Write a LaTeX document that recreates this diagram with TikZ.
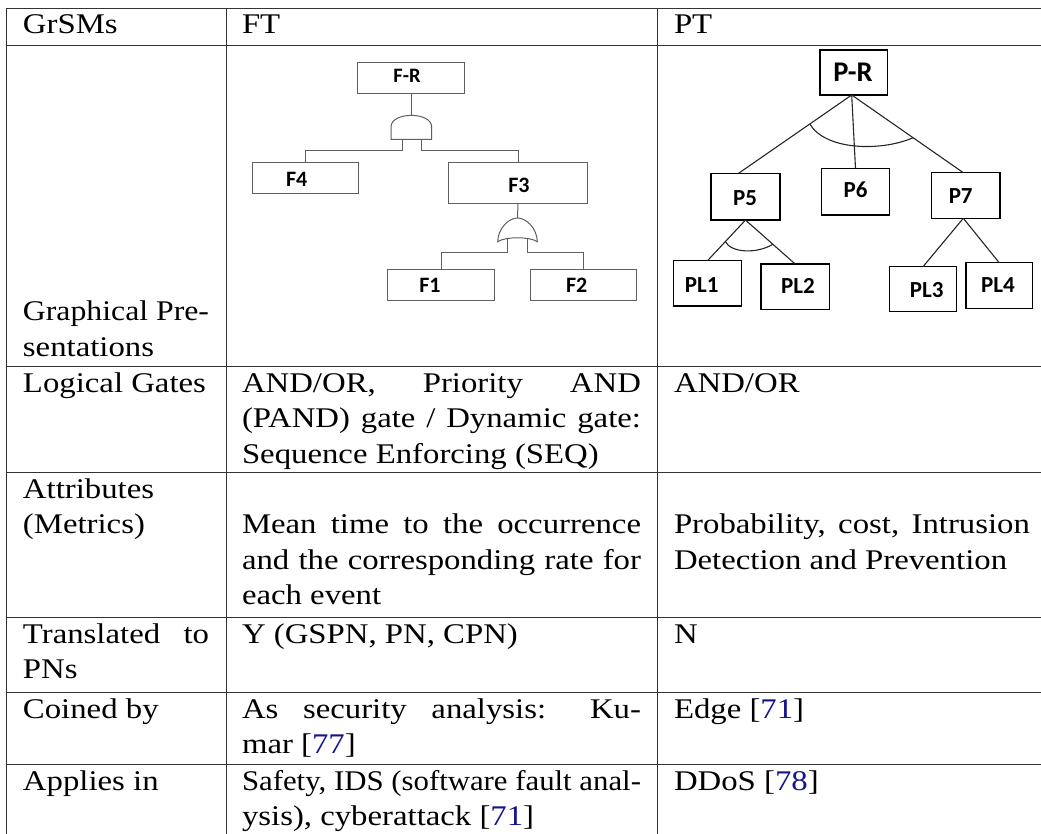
\documentclass[tikz,border=0pt]{standalone}
\usepackage{fontspec}
\usepackage{graphicx}
\setmainfont[FakeStretch=1.15]{Liberation Serif}
\newfontfamily\boxfont{Carlito}
\usetikzlibrary{calc}
\definecolor{citeblue}{RGB}{20,20,140}
\definecolor{ftgray}{RGB}{95,95,95}
\newcommand{\citeref}[1]{[{\color{citeblue}#1}]}
% spread a line to a given width
\newcommand{\just}[2]{\makebox[#1pt][s]{#2}}
% squeeze a line that is too long into a given width
\newcommand{\squeeze}[2]{\resizebox{#1pt}{\height}{#2}}

\begin{document}
\begin{tikzpicture}[x=1pt,y=-1pt,
  rule/.style={line width=0.9pt, black!80},
  cell/.style={anchor=base west, inner sep=0pt, outer sep=0pt,
    font=\fontsize{28.5}{33}\selectfont},
  ftbox/.style={draw=ftgray, line width=1pt, inner sep=0pt, outer sep=0pt},
  ftwire/.style={draw=ftgray, line width=1pt},
  ftlab/.style={anchor=base, inner sep=0pt, font=\boxfont\bfseries\fontsize{22}{22}\selectfont},
  ptbox/.style={draw=black, line width=1.3pt, inner sep=0pt, outer sep=0pt},
  ptwire/.style={draw=black!85, line width=1.1pt},
  ptlab/.style={anchor=base, inner sep=0pt, font=\boxfont\bfseries\fontsize{23}{23}\selectfont}]

\useasboundingbox (0,0) rectangle (1041,834);

% ---------- table rules ----------
\foreach \yy in {8,45,366,472,617,692,764}
  \draw[rule] (6,\yy) -- (1041,\yy);
\foreach \xx in {6,226,657}
  \draw[rule] (\xx,8) -- (\xx,834);

% ---------- header ----------
\node[cell] (h1) at (23,34) {GrSMs};
\node[cell] (h2) at (242,34) {FT};
\node[cell] (h3) at (674,34) {PT};

% ---------- first column ----------
\node[cell] (c1a) at (23,320.5) {\squeeze{186}{Graphical Pre-}};
\node[cell] (c1b) at (23,356) {sentations};
\node[cell] (c2a) at (23,392) {Logical Gates};
\node[cell] (c3a) at (23,498) {Attributes};
\node[cell] (c3b) at (23,533.5) {(Metrics)};
\node[cell] (c4a) at (23,643) {\just{186}{Translated to}};
\node[cell] (c4b) at (23,678.5) {PNs};
\node[cell] (c5a) at (23,718) {Coined by};
\node[cell] (c6a) at (23,790) {Applies in};

% ---------- FT column ----------
\node[cell] (f2a) at (242,392) {\just{399}{AND/OR, Priority AND}};
\node[cell] (f2b) at (242,427.5) {\just{399}{(PAND) gate / Dynamic gate:}};
\node[cell] (f2c) at (242,463) {Sequence Enforcing (SEQ)};
\node[cell] (f3a) at (242,533.5) {\just{399}{Mean time to the occurrence}};
\node[cell] (f3b) at (242,569) {\just{399}{and the corresponding rate for}};
\node[cell] (f3c) at (242,604.5) {each event};
\node[cell] (f4a) at (242,643) {Y (GSPN, PN, CPN)};
\node[cell] (f5a) at (242,718) {\just{399}{As security analysis: Ku-}};
\node[cell] (f5b) at (242,753.5) {mar \citeref{77}};
\node[cell] (f6a) at (242,790) {\squeeze{399}{Safety, IDS (software fault anal-}};
\node[cell] (f6b) at (242,825.5) {ysis), cyberattack \citeref{71}};

% ---------- PT column ----------
\node[cell] (p2a) at (674,392) {AND/OR};
\node[cell] (p3a) at (674,533.5) {\just{356}{Probability, cost, Intrusion}};
\node[cell] (p3b) at (674,569) {Detection and Prevention};
\node[cell] (p4a) at (674,643) {N};
\node[cell] (p5a) at (674,718) {Edge \citeref{71}};
\node[cell] (p6a) at (674,790) {DDoS \citeref{78}};

% ---------- fault tree ----------
\node[ftbox, minimum width=107.3pt, minimum height=30.6pt] (fr) at (411.3,78) {};
\node[ftbox, minimum width=105.6pt, minimum height=30.6pt] (ff4) at (305.5,178) {};
\node[ftbox, minimum width=139.4pt, minimum height=40.6pt] (ff3) at (518,183) {};
\node[ftbox, minimum width=107.3pt, minimum height=30pt] (ff1) at (441.3,285) {};
\node[ftbox, minimum width=105.7pt, minimum height=30pt] (ff2) at (583.8,285) {};
\node[ftlab, font=\boxfont\bfseries\fontsize{20.5}{21}\selectfont] (lfr) at (407,82.5) {F-R};
\node[ftlab] (lf4) at (296.7,186.5) {F4};
\node[ftlab] (lf3) at (519,192.5) {F3};
\node[ftlab] (lf1) at (430,292.8) {F1};
\node[ftlab] (lf2) at (576.7,292.8) {F2};

% AND gate under the top event
\coordinate (andtop) at (411.3,115.5);
\coordinate (andl) at (402,139.3);
\coordinate (andr) at (421.7,139.3);
\draw[ftwire] (391,139.3) -- (391,127) .. controls (391,111.5) and (431.7,111.5) .. (431.7,127) -- (431.7,139.3) -- cycle;
\draw[ftwire] (fr.south) -- (andtop);
\draw[ftwire] (andl) -- ++(0,11.7) -| (ff4.north);
\draw[ftwire] (andr) -- ++(0,11.7) -| (ff3.north);

% OR gate under F3
\coordinate (ortop) at (517.5,218);
\coordinate (orl) at (507.7,238.6);
\coordinate (orr) at (527.7,238.6);
\draw[ftwire] (497.7,241.7) .. controls (498,228) and (509,218) .. (ortop)
  .. controls (526,218) and (537,228) .. (537.3,241.7)
  .. controls (530,236.5) and (505,236.5) .. cycle;
\draw[ftwire] (ff3.south) -- (ortop);
\draw[ftwire] (orl) -- (507.7,253) -| (ff1.north);
\draw[ftwire] (orr) -- (527.7,253) -| (ff2.north);

% ---------- protection tree ----------
\node[ptbox, minimum width=67.3pt, minimum height=45pt] (pr) at (853.7,72.5) {};
\node[ptbox, minimum width=69pt, minimum height=46.7pt] (pp5) at (745.5,196.7) {};
\node[ptbox, minimum width=67.6pt, minimum height=46.7pt] (pp6) at (855.5,191.7) {};
\node[ptbox, minimum width=68.3pt, minimum height=45.6pt] (pp7) at (965.8,195.5) {};
\node[ptbox, minimum width=68.4pt, minimum height=45.3pt] (pl1) at (707.5,283.3) {};
\node[ptbox, minimum width=68.3pt, minimum height=45.3pt] (pl2) at (795.2,286.7) {};
\node[ptbox, minimum width=67.4pt, minimum height=45pt] (pl3) at (923,289.2) {};
\node[ptbox, minimum width=66.3pt, minimum height=45.6pt] (pl4) at (999.2,285.5) {};
\node[ptlab, font=\boxfont\bfseries\fontsize{28.5}{29}\selectfont] (lpr) at (853,82) {P-R};
\node[ptlab] (lp5) at (745,205.5) {P5};
\node[ptlab] (lp6) at (855.5,197.2) {P6};
\node[ptlab, font=\boxfont\bfseries\fontsize{23}{23}\selectfont] (lp7) at (960.7,203.5) {P7};
\node[ptlab] (lpl1) at (701.7,292) {PL1};
\node[ptlab] (lpl2) at (798,293.8) {PL2};
\node[ptlab] (lpl3) at (926.7,297.2) {PL3};
\node[ptlab] (lpl4) at (998,292) {PL4};

\coordinate (prs) at ($(pr.south)+(-2,0)$);
\coordinate (p5n) at ($(pp5.north)+(-7,0)$);
\coordinate (p7n) at ($(pp7.north)+(-2.5,0)$);
\coordinate (p7s) at ($(pp7.south)+(-2.5,0)$);
\draw[ptwire] (prs) -- (p5n);
\draw[ptwire] (prs) -- (pp6.north);
\draw[ptwire] (prs) -- (p7n);
\draw[ptwire] ($(prs)!0.37!(p5n)$) .. controls (825,150) and (880,152) .. ($(prs)!0.55!(p7n)$);

\draw[ptwire] (pp5.south) -- (pl1.north);
\draw[ptwire] (pp5.south) -- (pl2.north);
\draw[ptwire] ($(pp5.south)!0.53!(pl1.north)$) .. controls (731,253) and (757,254) .. ($(pp5.south)!0.55!(pl2.north)$);

\draw[ptwire] (p7s) -- (pl3.north);
\draw[ptwire] (p7s) -- (pl4.north);
\end{tikzpicture}
\end{document}
